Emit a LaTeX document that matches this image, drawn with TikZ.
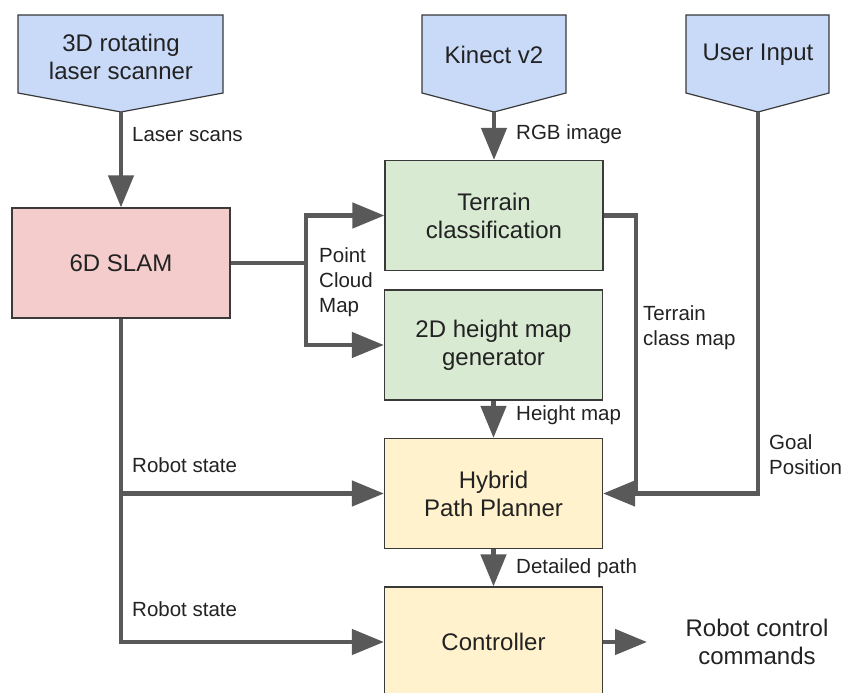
\documentclass[tikz,border=0pt]{standalone}
\usepackage{fontspec}
\setmainfont{Liberation Sans}
\usetikzlibrary{arrows.meta}
\definecolor{cblue}{HTML}{C9DAF8}
\definecolor{cpink}{HTML}{F4CCCC}
\definecolor{cgreen}{HTML}{D9EAD3}
\definecolor{cyellow}{HTML}{FFF2CC}
\definecolor{bord}{HTML}{3A3A3A}
\definecolor{agray}{HTML}{595959}
\definecolor{tgray}{HTML}{222222}
\newcommand\boxfont{\fontsize{24}{28}\selectfont}
\newcommand\lblfont{\fontsize{20.5}{25}\selectfont}
\begin{document}
\begin{tikzpicture}[x=1pt,y=-1pt,
  box/.style={draw=bord, line width=1.2pt, minimum width=218pt, minimum height=110pt,
    inner sep=0pt, align=center, font=\boxfont, text=tgray},
  pent/.style={draw=bord, line width=1.2pt, fill=cblue},
  ptext/.style={align=center, font=\boxfont, text=tgray, inner sep=0pt},
  lbl/.style={align=left, font=\lblfont, text=tgray, inner sep=0pt, anchor=west},
  wire/.style={draw=agray, line width=4.5pt},
  arr/.style={wire, -{Triangle[length=32pt,width=25pt]}}]
\clip (0,0) rectangle (847,693);
\fill[white] (0,0) rectangle (847,693);

% input pentagons
\filldraw[pent] (18,15) -- (223,15) -- (223,93) -- (121,112) -- (18,93) -- cycle;
\node[ptext] (ls) at (121,57) {3D rotating\\laser scanner};
\coordinate (lstip) at (121,112);
\filldraw[pent] (422,15) -- (566,15) -- (566,93) -- (494,112) -- (422,93) -- cycle;
\node[ptext] (ki) at (494,55) {Kinect v2};
\coordinate (kitip) at (494,112);
\filldraw[pent] (686,15) -- (829,15) -- (829,93) -- (758,112) -- (686,93) -- cycle;
\node[ptext] (ui) at (758,55) {User Input};
\coordinate (uitip) at (758,112);

% boxes
\node[box, fill=cpink] (slam) at (121,263) {6D SLAM};
\node[box, fill=cgreen] (terrain) at (494,215.5) {Terrain\\classification};
\node[box, fill=cgreen] (hmap) at (493.5,345) {2D height map\\generator};
\node[box, fill=cyellow] (hpp) at (493.5,493.5) {Hybrid\\Path Planner};
\node[box, fill=cyellow] (ctrl) at (493.5,642) {Controller};

% connectors
\draw[arr] (lstip) -- (slam.north);
\draw[arr] (kitip) -- (terrain.north);
\coordinate (pc) at (306,263);
\draw[arr] (slam.east) -- (pc) |- (terrain.west);
\draw[arr] (slam.east) -- (pc) |- (hmap.west);
\coordinate (tcm) at (636,493.5);
\draw[arr] (terrain.east) -| (tcm) -- (hpp.east);
\draw[wire] (uitip) |- (tcm);
\draw[arr] (hmap.south) -- (hpp.north);
\draw[arr] (hpp.south) -- (ctrl.north);
\draw[arr] (slam.south) |- (hpp.west);
\draw[arr] (slam.south) |- (ctrl.west);
\coordinate (out) at (647,642);
\draw[arr] (ctrl.east) -- (out);

% labels
\node[lbl] (l1) at (132,135) {Laser scans};
\node[lbl] (l2) at (516,134) {RGB image};
\node[lbl] (l3) at (319,282) {Point\\Cloud\\Map};
\node[lbl] (l4) at (643,328) {Terrain\\class map};
\node[lbl] (l5) at (516,415) {Height map};
\node[lbl] (l6) at (769,455) {Goal\\Position};
\node[lbl] (l7) at (132,465) {Robot state};
\node[lbl] (l8) at (132,609) {Robot state};
\node[lbl] (l9) at (516,568) {Detailed path};
\node[ptext] (l10) at (757,642) {Robot control\\commands};
\end{tikzpicture}
\end{document}
